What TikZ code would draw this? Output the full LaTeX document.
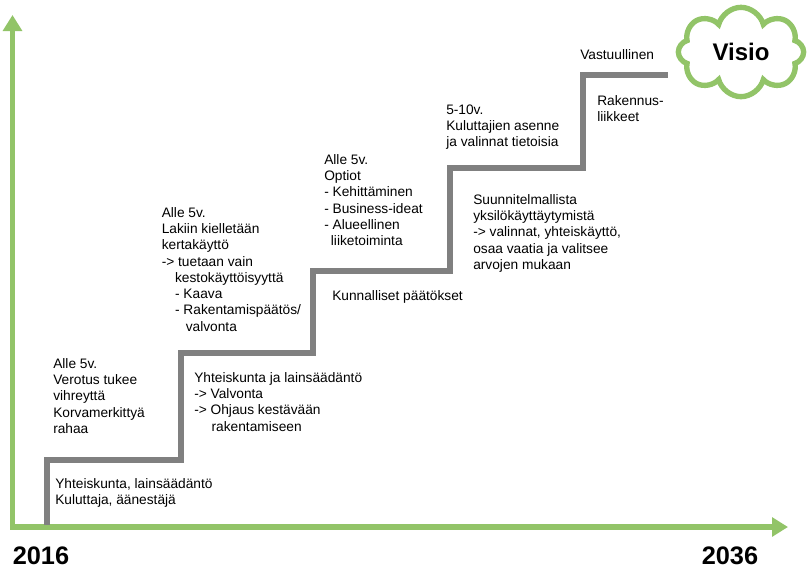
\documentclass[tikz,border=0pt]{standalone}
\usepackage{fontspec}
\setmainfont{Liberation Sans}
\usetikzlibrary{arrows.meta,shapes.symbols}
\definecolor{axisgreen}{RGB}{146,196,104}
\definecolor{stairgray}{RGB}{128,128,128}
\begin{document}
\begin{tikzpicture}[x=0.75pt,y=-0.75pt,
  note/.style={font=\fontsize{10.3}{12.2}\selectfont, align=left, inner sep=0pt, anchor=north west},
  year/.style={font=\fontsize{19}{21}\bfseries\selectfont, inner sep=0pt},
  axisline/.style={draw=axisgreen, line width=4pt, line cap=rect, -{Triangle[width=14pt,length=12pt]}},
  stairline/.style={draw=stairgray, line width=4.5pt},
  cloudnode/.style={cloud, cloud puffs=8, aspect=1.4, draw=axisgreen, line width=4pt,
    fill=white, minimum width=94pt, minimum height=67pt,
    font=\fontsize{18}{20}\bfseries\selectfont}]
\useasboundingbox (0,0) rectangle (808,568);
\fill[white] (0,0) rectangle (808,568);

% axes
\coordinate (origin) at (12.5,527);
\coordinate (ytop) at (12.5,15);
\coordinate (xend) at (788,527);
\draw[axisline] (origin) -- (ytop);
\draw[axisline] (origin) -- (xend);

% staircase
\coordinate (s0) at (47,525);
\coordinate (s1) at (47,460);
\coordinate (s2) at (181,460);
\coordinate (s3) at (181,353);
\coordinate (s4) at (313,353);
\coordinate (s5) at (313,271);
\coordinate (s6) at (450,271);
\coordinate (s7) at (450,168);
\coordinate (s8) at (583,168);
\coordinate (s9) at (583,75);
\coordinate (s10) at (668,75);
\draw[stairline] (s0) -- (s1) -- (s2) -- (s3) -- (s4) -- (s5) -- (s6) -- (s7) -- (s8) -- (s9) -- (s10);

% goal
\node[cloudnode] (visio) at (741,52) {Visio};

% years
\node[year] (y2016) at (41,556) {2016};
\node[year] (y2036) at (730,556) {2036};

% step texts
\node[note] (t1) at (53,358) {Alle 5v.\\Verotus tukee\\vihreyttä\\Korvamerkittyä\\rahaa};
\node[note] (t2) at (194,372) {Yhteiskunta ja lainsäädäntö\\-> Valvonta\\-> Ohjaus kestävään\\\hspace*{13pt}rakentamiseen};
\node[note] (t3) at (55,478) {Yhteiskunta, lainsäädäntö\\Kuluttaja, äänestäjä};
\node[note] (t4) at (161.5,207) {Alle 5v.\\Lakiin kielletään\\kertakäyttö\\-> tuetaan vain\\\hspace*{10pt}kestokäyttöisyyttä\\\hspace*{10pt}- Kaava\\\hspace*{10pt}- Rakentamispäätös/\\\hspace*{18pt}valvonta};
\node[note] (t5) at (324,154) {Alle 5v.\\Optiot\\- Kehittäminen\\- Business-ideat\\- Alueellinen\\\hspace*{5pt}liiketoiminta};
\node[note] (t6) at (332,290) {Kunnalliset päätökset};
\node[note] (t7) at (446,104.5) {5-10v.\\Kuluttajien asenne\\ja valinnat tietoisia};
\node[note] (t8) at (473,194) {Suunnitelmallista\\yksilökäyttäytymistä\\-> valinnat, yhteiskäyttö,\\osaa vaatia ja valitsee\\arvojen mukaan};
\node[note] (t9) at (580,49) {Vastuullinen};
\node[note] (t10) at (597,95.5) {Rakennus-\\liikkeet};
\end{tikzpicture}
\end{document}
